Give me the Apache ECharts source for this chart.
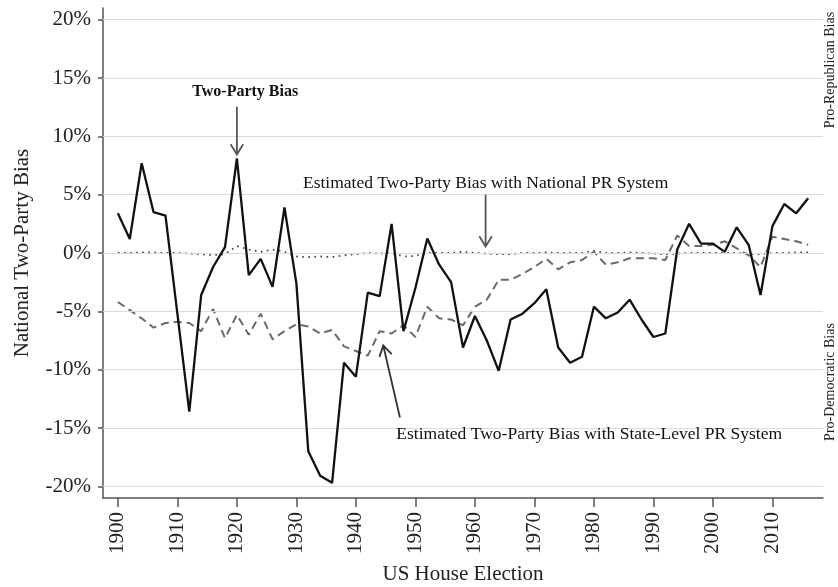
<!DOCTYPE html>
<html>
<head>
<meta charset="utf-8">
<script src="https://cdn.jsdelivr.net/npm/echarts@6/dist/echarts.min.js"></script>
<style>
html,body{margin:0;padding:0;background:#fff;}
#chart{width:838px;height:587px;}
</style>
</head>
<body>
<div id="chart"></div>
<script>
const years = [1900,1902,1904,1906,1908,1910,1912,1914,1916,1918,1920,1922,1924,1926,1928,1930,1932,1934,1936,1938,1940,1942,1944,1946,1948,1950,1952,1954,1956,1958,1960,1962,1964,1966,1968,1970,1972,1974,1976,1978,1980,1982,1984,1986,1988,1990,1992,1994,1996,1998,2000,2002,2004,2006,2008,2010,2012,2014,2016];

const twoPartyBias = [3.4,1.2,7.7,3.5,3.2,-5.2,-13.6,-3.6,-1.2,0.5,8.1,-1.9,-0.5,-2.9,3.9,-2.6,-17.0,-19.1,-19.7,-9.4,-10.6,-3.4,-3.7,2.5,-6.7,-3.0,1.25,-1.0,-2.5,-8.1,-5.4,-7.5,-10.1,-5.7,-5.2,-4.3,-3.1,-8.1,-9.4,-8.9,-4.6,-5.6,-5.1,-4.0,-5.7,-7.2,-6.9,0.3,2.5,0.8,0.8,0.1,2.2,0.7,-3.6,2.3,4.2,3.4,4.7];

const nationalPR = [0.0,0.0,0.05,0.05,0.0,0.0,-0.05,-0.1,-0.2,-0.1,0.6,0.3,0.1,0.3,0.1,-0.3,-0.35,-0.3,-0.35,-0.2,-0.1,0.0,-0.05,0.0,-0.3,-0.25,0.0,0.0,0.0,0.1,0.0,-0.05,-0.1,-0.1,0.0,0.0,0.05,0.0,0.0,0.0,0.2,0.0,0.0,0.05,0.0,-0.05,-0.1,-0.05,0.0,0.0,0.0,0.0,0.0,-0.05,-0.1,0.0,0.0,0.05,0.05];

const stateLevelPR = [-4.2,-4.9,-5.6,-6.4,-6.0,-5.9,-6.0,-6.7,-4.8,-7.3,-5.3,-7.0,-5.2,-7.4,-6.7,-6.1,-6.3,-6.9,-6.6,-8.0,-8.4,-8.8,-6.7,-6.9,-6.2,-7.2,-4.6,-5.6,-5.7,-6.2,-4.6,-4.0,-2.3,-2.3,-1.8,-1.2,-0.5,-1.4,-0.8,-0.6,0.1,-1.0,-0.8,-0.45,-0.45,-0.45,-0.6,1.5,0.6,0.6,0.7,1.0,0.4,-0.2,-1.2,1.4,1.2,1.0,0.7];

const yTickValues = [-20,-15,-10,-5,0,5,10,15,20];
const xTickValues = [1900,1910,1920,1930,1940,1950,1960,1970,1980,1990,2000,2010];

const FONT = '"Liberation Serif", "Times New Roman", serif';

const chart = echarts.init(document.getElementById('chart'), null, {renderer:'canvas'});

const pairs = arr => years.map((y,i)=>[y, arr[i]]);

chart.setOption({
  animation:false,
  backgroundColor:'#fff',
  grid:{left:103, right:15, top:8, bottom:89, containLabel:false, outerBoundsMode:'none'},
  xAxis:{
    type:'value', min:1897.5, max:2018.5,
    name:'US House Election', nameLocation:'middle', nameGap:66,
    nameTextStyle:{fontFamily:FONT, fontSize:21, color:'#222'},
    axisLine:{show:true, onZero:false, lineStyle:{color:'#555', width:1.5}},
    axisTick:{show:true, length:9, customValues:xTickValues, lineStyle:{color:'#555', width:1.5}},
    axisLabel:{customValues:xTickValues, rotate:90, margin:14, fontFamily:FONT, fontSize:21, color:'#222', formatter:v=>String(v)},
    splitLine:{show:false}
  },
  yAxis:{
    type:'value', min:-21, max:21,
    name:'National Two-Party Bias', nameLocation:'middle', nameGap:70,
    nameTextStyle:{fontFamily:FONT, fontSize:21, color:'#222'},
    axisLine:{show:true, onZero:false, lineStyle:{color:'#555', width:1.5}},
    axisTick:{show:true, length:5, customValues:yTickValues, lineStyle:{color:'#555', width:1.5}},
    axisLabel:{customValues:yTickValues, margin:12, fontFamily:FONT, fontSize:21, color:'#222', formatter:v=>v+'%'},
    splitLine:{show:false}
  },
  series:[
    {
      name:'gridlines', type:'line', data:[], z:1, silent:true,
      markLine:{silent:true, symbol:'none', animation:false, label:{show:false},
        lineStyle:{color:'#dcdcdc', type:'solid', width:1.2},
        data:yTickValues.map(v=>({yAxis:v}))}
    },
    {
      name:'National PR', type:'line', data:pairs(nationalPR), showSymbol:false, symbol:'none', z:3,
      lineStyle:{color:'#444', width:1.8, type:[1.6,4.5]}
    },
    {
      name:'State-Level PR', type:'line', data:pairs(stateLevelPR), showSymbol:false, symbol:'none', z:4,
      lineStyle:{color:'#6a6a6a', width:2, type:[8,5]}
    },
    {
      name:'Two-Party Bias', type:'line', data:pairs(twoPartyBias), showSymbol:false, symbol:'none', z:5,
      lineStyle:{color:'#111', width:2.3}
    }
  ]
});

function px(x,y){ return chart.convertToPixel({gridIndex:0}, [x,y]); }
function arrow(from, to, color, head){
  const a = px(from[0],from[1]), b = px(to[0],to[1]);
  const ang = Math.atan2(b[1]-a[1], b[0]-a[0]);
  const h = head||12, w = 0.55;
  const l = [b[0]-h*Math.cos(ang-w), b[1]-h*Math.sin(ang-w)];
  const r = [b[0]-h*Math.cos(ang+w), b[1]-h*Math.sin(ang+w)];
  return [
    {type:'line', shape:{x1:a[0],y1:a[1],x2:b[0],y2:b[1]}, style:{stroke:color, lineWidth:1.8}, z:10},
    {type:'polyline', shape:{points:[l,b,r]}, style:{stroke:color, lineWidth:1.8, fill:null}, z:10}
  ];
}
const tpText = px(1921.4, 13.8);
const natText = px(1961.8, 6.0);
const stText = px(1946.8, -15.55);
const graphics = [].concat(
  arrow([1920,12.55],[1920,8.44],'#555'),
  arrow([1961.8,5.0],[1961.8,0.56],'#555'),
  arrow([1947.4,-14.1],[1944.6,-7.93],'#333'),
  [
    {type:'text', x:tpText[0], y:tpText[1], z:10, style:{text:'Two-Party Bias', font:'bold 16px '+FONT, fill:'#111', align:'center', verticalAlign:'middle'}},
    {type:'text', x:natText[0], y:natText[1], z:10, style:{text:'Estimated Two-Party Bias with National PR System', font:'17.5px '+FONT, fill:'#111', align:'center', verticalAlign:'middle'}},
    {type:'text', x:stText[0], y:stText[1], z:10, style:{text:'Estimated Two-Party Bias with State-Level PR System', font:'17.5px '+FONT, fill:'#111', align:'left', verticalAlign:'middle'}},
    {type:'text', x:830, y:70, rotation:Math.PI/2, z:10, style:{text:'Pro-Republican Bias', font:'14px '+FONT, fill:'#222', align:'center', verticalAlign:'middle'}},
    {type:'text', x:830, y:382, rotation:Math.PI/2, z:10, style:{text:'Pro-Democratic Bias', font:'14px '+FONT, fill:'#222', align:'center', verticalAlign:'middle'}}
  ]
);
chart.setOption({graphic:graphics});
</script>
</body>
</html>
